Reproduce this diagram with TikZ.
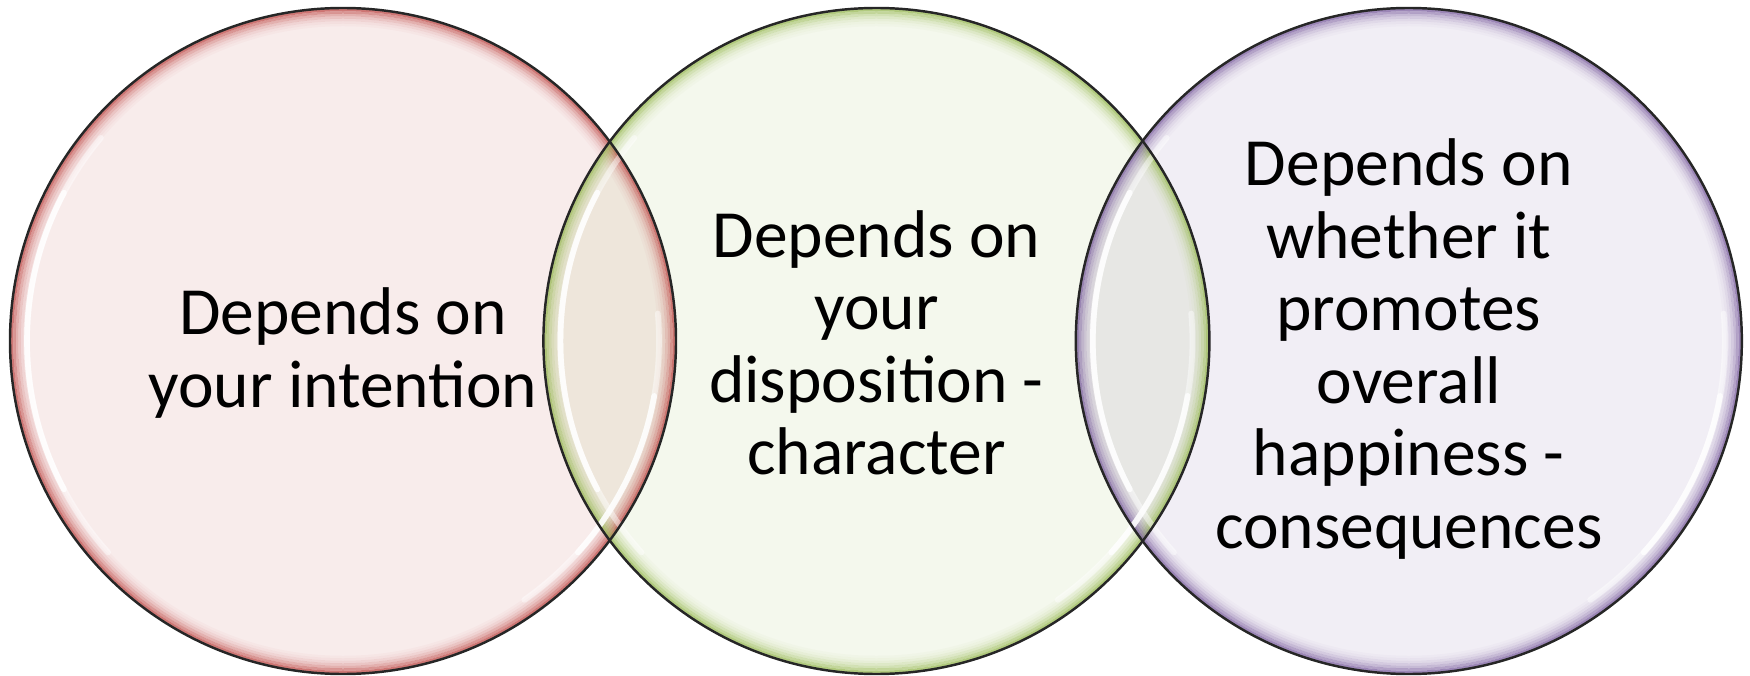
\documentclass[tikz,border=0pt]{standalone}
\usepackage{fontspec}
\setmainfont{Carlito}
\usetikzlibrary{positioning}

\definecolor{redrim}{HTML}{C0504D}
\definecolor{greenrim}{HTML}{9BBB59}
\definecolor{purplerim}{HTML}{8064A2}

\begin{document}
\begin{tikzpicture}[
		every node/.style={font=\fontsize{19.2}{20.6}\selectfont},
		bubble/.style={
			circle,
			minimum size=6.66cm,
			inner sep=0pt,
			fill=#1,
			fill opacity=0.11
		},
		outline/.style={
			draw=black!85,
			line width=0.7pt
		},
		shine/.style={
			draw=white,
			line width=1.6pt,
			line cap=round
		},
		caption/.style={
			align=center,
			inner sep=0pt
		}
		]
		\useasboundingbox (0,0) rectangle (17.5,6.75);
		
		% Circles
		\node[bubble=redrim] (intent) at (3.43,3.34) {};
		\node[bubble=greenrim, right=-1.34cm of intent] (disp) {};
		\node[bubble=purplerim, right=-1.35cm of disp] (cons) {};
		
		% Rim glow
		\foreach \n/\c in {intent/redrim, disp/greenrim, cons/purplerim}
		\foreach \k/\o in {0/0.75, 1/0.55, 2/0.38, 3/0.25, 4/0.15, 5/0.08, 6/0.04}
		\draw[\c, draw opacity=\o, line width=0.025cm]
		(\n.center) circle[radius={3.31-\k*0.025}];
		
		% Highlights
		\foreach \n in {intent, disp, cons} {
			\draw[shine, draw opacity=0.45] ([shift={(140:3.16)}]\n.center) arc[start angle=140, end angle=222, radius=3.16];
			\draw[shine, draw opacity=0.85] ([shift={(152:3.16)}]\n.center) arc[start angle=152, end angle=208, radius=3.16];
			\draw[shine, draw opacity=0.45] ([shift={(5:3.16)}]\n.center) arc[start angle=5, end angle=-55, radius=3.16];
			\draw[shine, draw opacity=0.8] ([shift={(-10:3.16)}]\n.center) arc[start angle=-10, end angle=-42, radius=3.16];
		}
		
		% Outlines
		\foreach \n in {intent, disp, cons}
		\draw[outline] (\n.center) circle[radius=3.33];
		
		% Texts
		\node[caption] (intentText) at ([yshift=-0.12cm]intent.center) {Depends on\\your intention};
		\node[caption] (dispText) at ([yshift=-0.02cm]disp.center) {Depends on\\your\\disposition -\\character};
		\node[caption] (consText) at ([yshift=-0.08cm]cons.center) {Depends on\\whether it\\promotes\\overall\\happiness -\\consequences};
	\end{tikzpicture}
\end{document}
